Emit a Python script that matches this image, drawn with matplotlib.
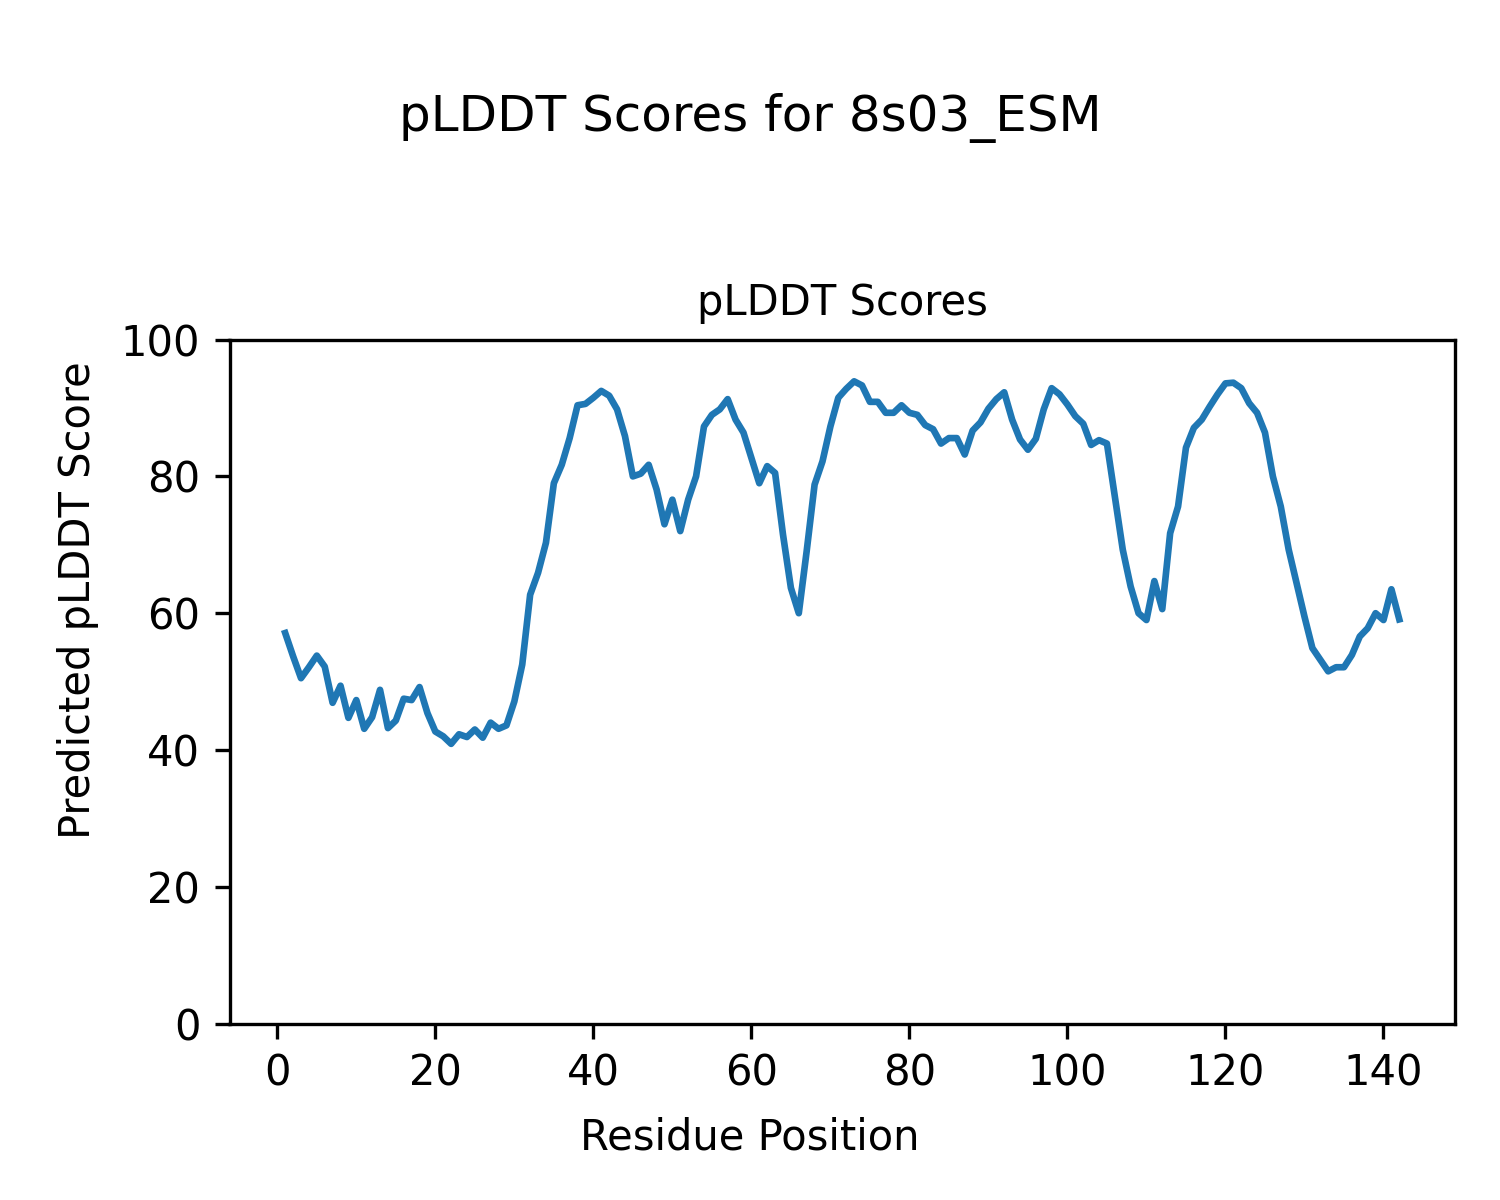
import numpy as np
import matplotlib
matplotlib.use("Agg")
import matplotlib.pyplot as plt

# per-residue pLDDT
residues = np.arange(1, 143)
plddt = [
    57.1, 53.7, 50.5, 52.1, 53.8, 52.2, 46.9, 49.4, 44.7, 47.3,
    43.1, 44.8, 48.8, 43.2, 44.3, 47.5, 47.3, 49.2, 45.4, 42.7,
    42.0, 40.9, 42.3, 41.9, 43.0, 41.8, 44.0, 43.1, 43.6, 47.1,
    52.5, 62.7, 65.9, 70.3, 79.0, 81.7, 85.6, 90.4, 90.6, 91.5,
    92.5, 91.8, 89.8, 85.9, 80.0, 80.4, 81.7, 78.1, 73.0, 76.6,
    72.0, 76.6, 80.0, 87.3, 89.0, 89.8, 91.3, 88.3, 86.4, 82.7,
    79.0, 81.5, 80.5, 71.5, 63.7, 60.0, 69.1, 78.8, 82.2, 87.3,
    91.5, 92.8, 93.9, 93.3, 90.9, 90.9, 89.3, 89.3, 90.4, 89.3,
    89.0, 87.5, 86.9, 84.8, 85.6, 85.6, 83.2, 86.7, 87.9, 89.9,
    91.3, 92.3, 88.3, 85.4, 83.9, 85.5, 89.8, 92.9, 92.0, 90.5,
    88.8, 87.7, 84.6, 85.3, 84.8, 77.1, 69.3, 63.9, 60.0, 59.0,
    64.7, 60.6, 71.7, 75.6, 84.2, 87.1, 88.3, 90.2, 92.0, 93.6,
    93.7, 92.9, 90.7, 89.3, 86.4, 80.0, 75.6, 69.3, 64.4, 59.5,
    54.9, 53.2, 51.5, 52.1, 52.1, 53.9, 56.6, 57.8, 60.0, 59.0,
    63.5, 59.1,
]

fig = plt.figure(figsize=(5, 4), dpi=300)
ax = fig.add_axes([0.153, 0.147, 0.817, 0.570])
ax.plot(residues, plddt, color="#1f77b4", linewidth=1.6)
ax.set_ylim(0, 100)
ax.set_title("pLDDT Scores", fontsize=10)

# figure-level labels (centred on the figure, not the axes)
fig.text(0.5, 0.052, "Residue Position", ha="center", va="center", fontsize=10)
fig.text(0.052, 0.5, "Predicted pLDDT Score", ha="center", va="center",
         rotation=90, fontsize=10)
fig.suptitle("pLDDT Scores for 8s03_ESM", fontsize=12, y=0.902, va="center")

fig.savefig("out.png", dpi=300)
